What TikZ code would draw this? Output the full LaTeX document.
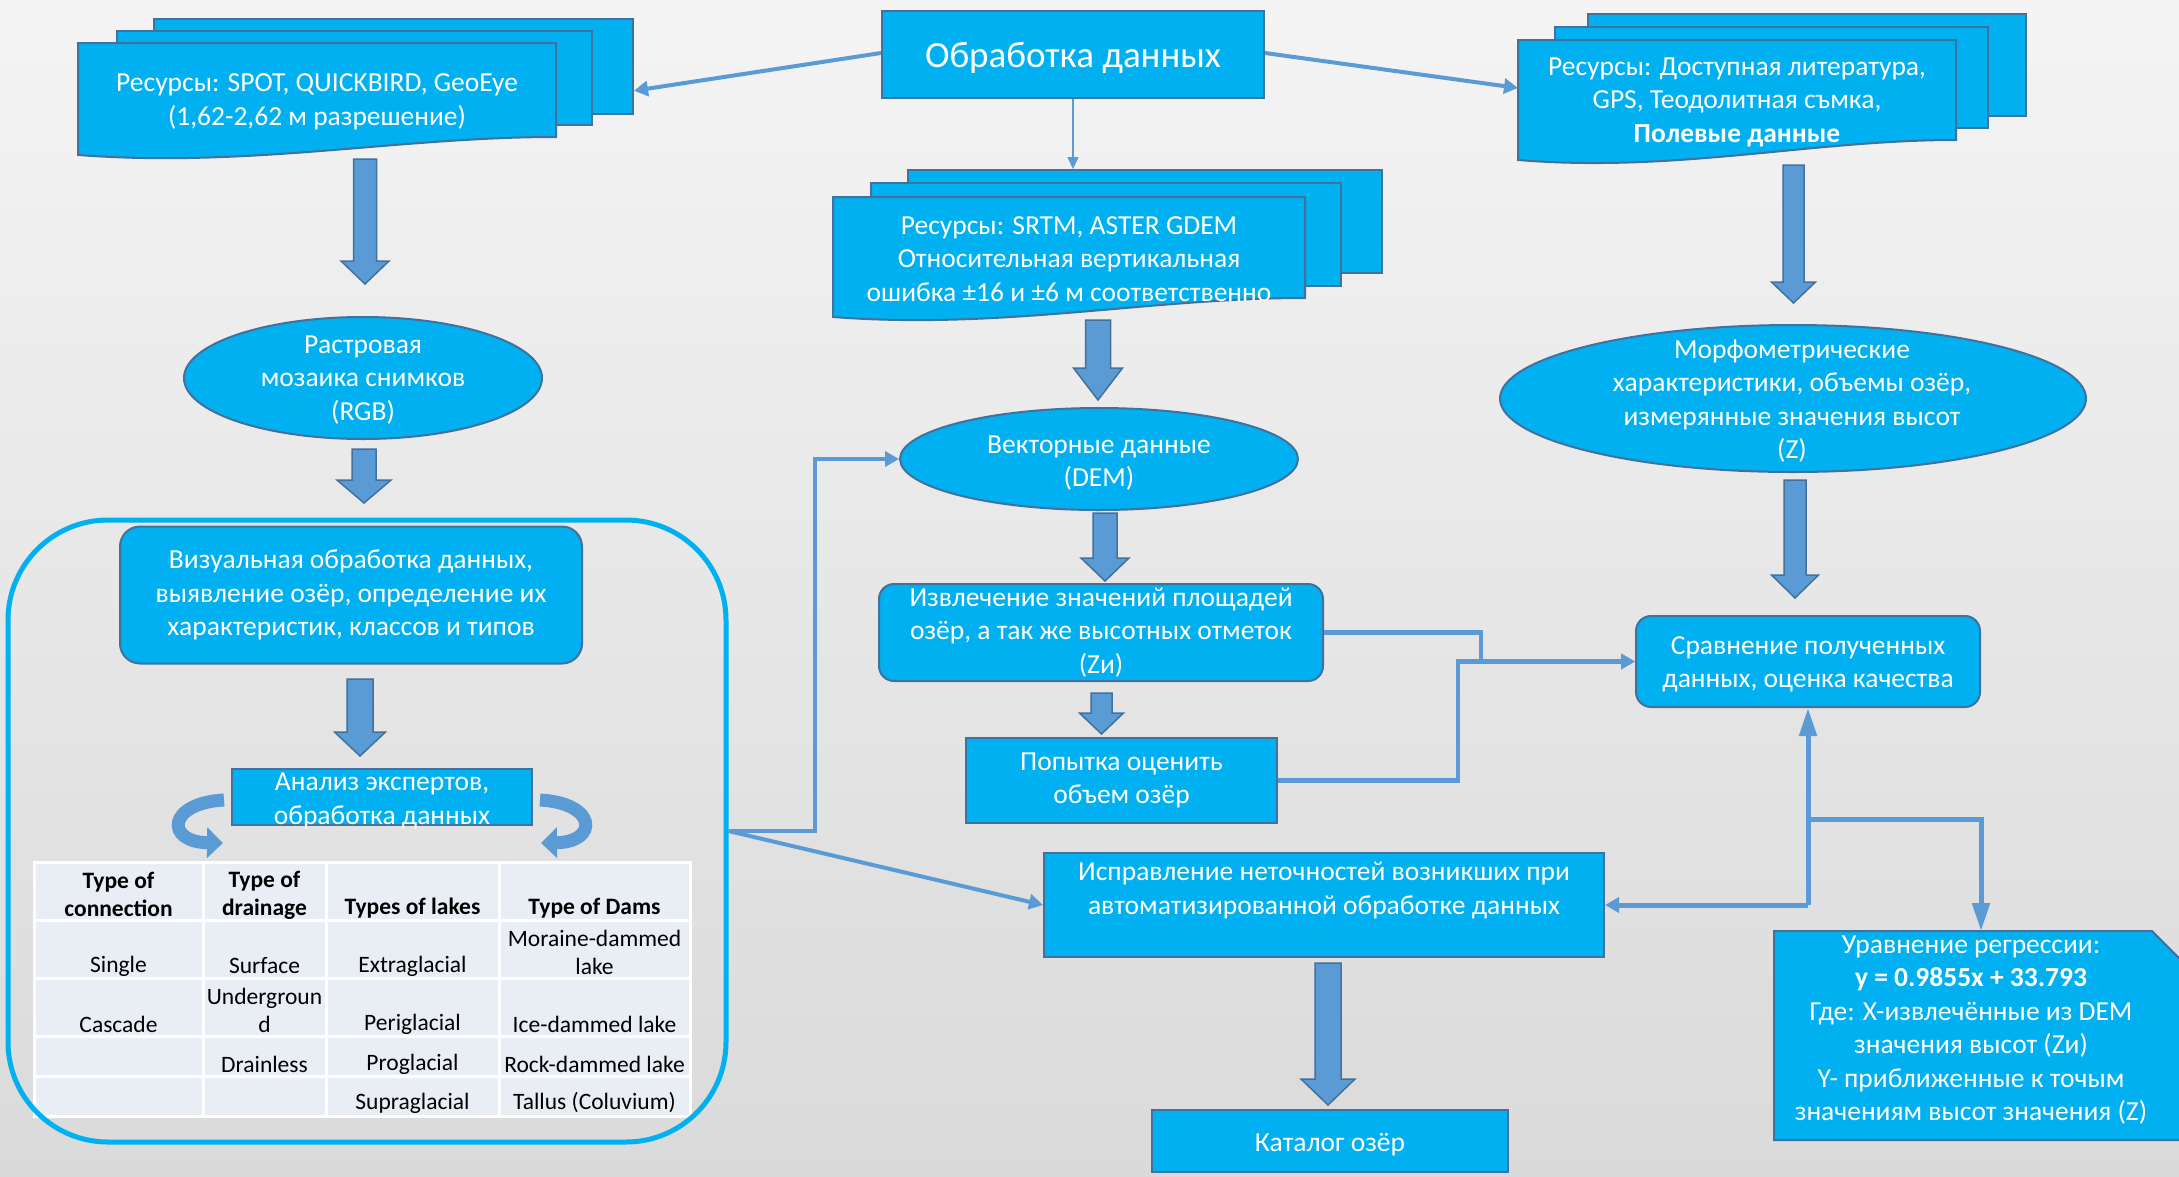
\documentclass[tikz,border=0pt]{standalone}
\usepackage{fontspec}
\setmainfont{Carlito}
\usetikzlibrary{arrows.meta,shapes.geometric,calc}
\definecolor{cy}{HTML}{00B0F0}
\definecolor{bd}{HTML}{41719C}
\definecolor{ab}{HTML}{5B9BD5}
\definecolor{cellc}{HTML}{E9EDF4}
\definecolor{bgt}{HTML}{F4F4F4}
\definecolor{bgb}{HTML}{DADADA}
\tikzset{
 txt/.style={text=white, align=center, font=\fontsize{27.5}{33.5}\selectfont, inner sep=0pt},
 box/.style={txt, draw=bd, fill=cy, line width=2pt},
 layer/.style={draw=bd, fill=cy, line width=2pt, inner sep=0pt},
 elli/.style={ellipse, draw=bd, fill=cy, line width=2pt, inner sep=0pt},
 conn/.style={draw=ab, line width=4pt, -{Triangle[length=14pt,width=15pt]}},
 blk/.style={draw=bd, fill=ab, line width=1.5pt, line join=miter},
 cellt/.style={font=\fontsize{23.5}{28}\selectfont, align=center, inner sep=0pt, text=black},
 headt/.style={cellt, font=\fontsize{23.5}{28}\selectfont\bfseries},
 curv/.style={draw=ab, line width=13pt, -{Triangle[length=16pt,width=30pt]}},
}
\newcommand\docfront[5]{\draw[layer] (#1,#3) -- (#2,#3) -- (#2,#5) .. controls ({#1+0.67*(#2-#1)},#5) and ({#1+0.36*(#2-#1)},#4+13) .. (#1,#4) -- cycle;}
\newcommand\blkarrow[6]{\draw[blk] ({#1-#5},#2) -- ({#1+#5},#2) -- ({#1+#5},#3) -- ({#1+#6},#3) -- (#1,#4) -- ({#1-#6},#3) -- ({#1-#5},#3) -- cycle;}
\begin{document}
\begin{tikzpicture}[x=1pt,y=-1pt]
\useasboundingbox (0,0) rectangle (2179,1176);
\clip (0,0) rectangle (2179,1176);
\shade[top color=bgt, bottom color=bgb] (0,0) rectangle (2179,1176);

% ---------- top process box
\node[box, minimum width=382, minimum height=87] (proc) at (1073,54.5) {};
\node[txt, font=\fontsize{37}{44}\selectfont] (procT) at (1073,58) {Обработка данных};

% ---------- left document stack
\node[layer, minimum width=479, minimum height=95] (srcLback) at (393.5,66.5) {};
\node[layer, minimum width=475, minimum height=94] (srcLmid) at (354.5,78) {};
\docfront{78}{556}{43}{155}{137}
\node[txt] (srcL) at (317,102) {Ресурсы: SPOT, QUICKBIRD, GeoEye\\(1,62-2,62 м разрешение)};

% ---------- middle document stack
\node[layer, minimum width=474, minimum height=103] (srcMback) at (1145,221.5) {};
\node[layer, minimum width=470, minimum height=103] (srcMmid) at (1106,234.5) {};
\docfront{833}{1305}{197}{317}{298}
\node[txt] (srcM) at (1069,259) {Ресурсы: SRTM, ASTER GDEM\\Относительная вертикальная\\ошибка ±16 и ±6 м соответственно};

% ---------- right document stack
\node[layer, minimum width=438, minimum height=102] (srcRback) at (1807,65) {};
\node[layer, minimum width=433, minimum height=101] (srcRmid) at (1771.5,77.5) {};
\docfront{1518}{1956}{40}{160}{140}
\node[txt] (srcR) at (1737,102) {Ресурсы: Доступная литература,\\GPS, Теодолитная съмка,\\\textbf{Полевые данные}};
\coordinate (srcRin) at (1518,88);

% ---------- ellipses
\node[elli, minimum width=358, minimum height=122] (ras) at (363,378) {};
\node[txt] (rasT) at (363,380) {Растровая\\мозаика снимков\\(RGB)};
\node[elli, minimum width=398, minimum height=102] (vec) at (1099,459) {};
\node[txt] (vecT) at (1099,463) {Векторные данные\\(DEM)};
\node[elli, minimum width=586, minimum height=147] (mor) at (1793,398.5) {};
\node[txt] (morT) at (1792,401) {Морфометрические\\характеристики, объемы озёр,\\измерянные значения высот\\(Z)};

% ---------- table
\fill[cellc] (34,862) rectangle (690,1116);
\draw[white, line width=3pt] (34,862) rectangle (690,1116);
\foreach \xx in {203,326,499} \draw[white, line width=3pt] (\xx,862) -- (\xx,1116);
\foreach \yy in {920,978,1036,1076} \draw[white, line width=3pt] (34,\yy) -- (690,\yy);
\node[headt] (h1) at (118.5,894) {Type of\\connection};
\node[headt] (h2) at (264.5,895) {Type of\\drainage};
\node[headt] (h3) at (412.5,908) {Types of lakes};
\node[headt] (h4) at (594.5,908) {Type of Dams};
\node[cellt] (r1a) at (118.5,966) {Single};
\node[cellt] (r1b) at (264.5,966) {Surface};
\node[cellt] (r1c) at (412.5,966) {Extraglacial};
\node[cellt] (r1d) at (594.5,952) {Moraine-dammed\\lake};
\node[cellt] (r2a) at (118.5,1024) {Cascade};
\node[cellt] (r2b) at (264.5,1010) {Undergroun\\d};
\node[cellt] (r2c) at (412.5,1024) {Periglacial};
\node[cellt] (r2d) at (594.5,1024) {Ice-dammed lake};
\node[cellt] (r3b) at (264.5,1064) {Drainless};
\node[cellt] (r3c) at (412.5,1064) {Proglacial};
\node[cellt] (r3d) at (594.5,1064) {Rock-dammed lake};
\node[cellt] (r4c) at (412.5,1103) {Supraglacial};
\node[cellt] (r4d) at (594.5,1103) {Tallus (Coluvium)};

% ---------- container and its boxes
\node[draw=cy, line width=5pt, rounded corners=100pt, minimum width=718, minimum height=622, inner sep=0pt] (cont) at (367,831) {};
\node[box, rounded corners=20pt, minimum width=462, minimum height=137] (vis) at (351,595) {Визуальная обработка данных,\\выявление озёр, определение их\\характеристик, классов и типов};
\node[box, minimum width=300, minimum height=56] (ana) at (382,797) {};
\node[txt] (anaT) at (382,801) {Анализ экспертов,\\обработка данных};
\draw[curv] (224,800) .. controls (167,803) and (165,842) .. (223,843);
\draw[curv] (540,800) .. controls (597,803) and (599,842) .. (541,843);

% ---------- middle and right boxes
\node[box, rounded corners=15pt, minimum width=444, minimum height=97] (ext) at (1101,632.5) {Извлечение значений площадей\\озёр, а так же высотных отметок\\(Zи)};
\node[box, minimum width=311, minimum height=85] (pop) at (1121.5,780.5) {Попытка оценить\\объем озёр};
\node[box, rounded corners=15pt, minimum width=344, minimum height=91] (cmp) at (1808,661.5) {};
\node[txt] (cmpT) at (1808,664.5) {Сравнение полученных\\данных, оценка качества};
\node[box, minimum width=560, minimum height=104] (cor) at (1324,905) {Исправление неточностей возникших при\\автоматизированной обработке данных\\\mbox{}};
\node[box, minimum width=356, minimum height=62] (cat) at (1330,1141) {};
\node[txt] (catT) at (1330,1145) {Каталог озёр};
\draw[layer] (1774,931) -- (2152,931) -- (2200,979) -- (2200,1140) -- (1774,1140) -- cycle;
\node[txt] (reg) at (1971,1030) {Уравнение регрессии:\\\textbf{y = 0.9855x + 33.793}\\Где: X-извлечённые из DEM\\значения высот (Zи)\\Y- приближенные к точым\\значениям высот значения (Z)};
\coordinate (regtop) at (1981,931);

% ---------- block arrows
\blkarrow{365}{159}{261}{284}{11.5}{24}
\blkarrow{364}{449}{480}{503}{12}{27}
\blkarrow{360}{679}{732}{756}{13}{25.5}
\blkarrow{1098}{320}{368}{400}{12.5}{24.5}
\blkarrow{1105}{513}{558}{581}{12}{24}
\blkarrow{1101.5}{693}{713}{734}{10.5}{22}
\blkarrow{1793.5}{165}{282}{303}{10.5}{22}
\blkarrow{1795}{480}{575}{598}{11}{23.5}
\blkarrow{1328}{963}{1079}{1105}{13}{27}

% ---------- connectors
\draw[conn] (proc.west |- 0,53) -- ($(srcLback.south east)!0.25!(srcLback.north east)$);
\draw[conn] (proc.east |- 0,53) -- (srcRin);
\draw[draw=ab, line width=1.5pt, -{Triangle[length=12pt,width=11pt]}] (proc.south) -- (proc.south |- srcMback.north);
\draw[conn] (cont.east) -- ++(86,0) |- (vec.west);
\draw[conn] (cont.east) -- (cor.west);
\draw[conn, line width=4.5pt] (ext.east) -- ++(157,0) |- (cmp.west);
\draw[conn, line width=4.5pt] (pop.east) -- ++(180,0) |- (cmp.west);
\coordinate (j1) at (cmp.south |- cor.east);
\draw[draw=ab, line width=5pt, -{Triangle[length=28pt,width=17pt]}] (j1) -- (cmp.south);
\draw[conn, line width=5pt] (j1) -- (cor.east);
\draw[draw=ab, line width=5pt, -{Triangle[length=28pt,width=17pt]}] ($(cmp.south)+(0,111)$) -| (regtop);
\end{tikzpicture}
\end{document}
